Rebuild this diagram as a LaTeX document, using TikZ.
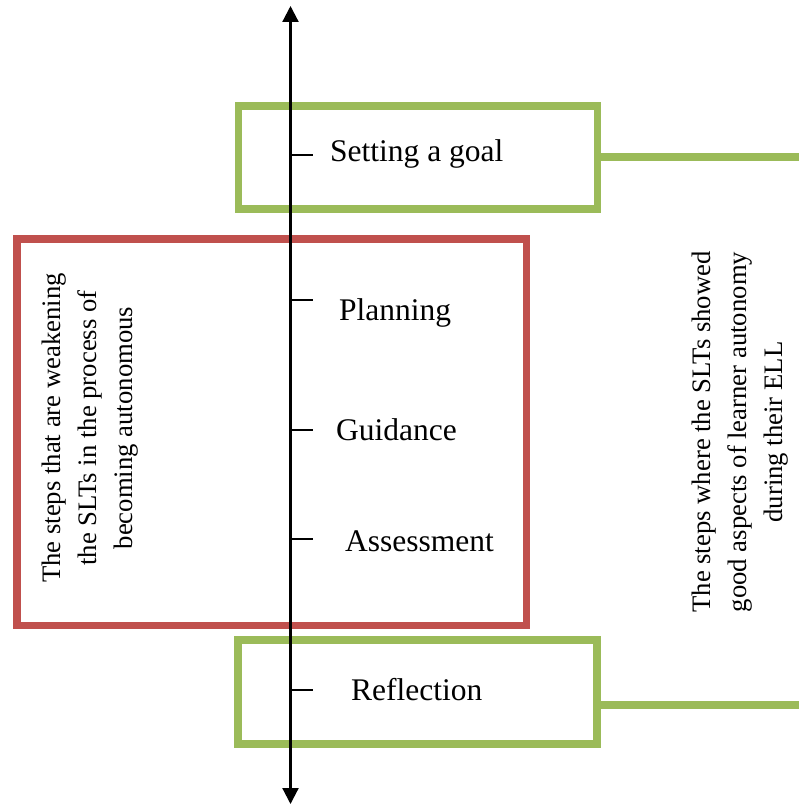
\documentclass[tikz,border=0pt]{standalone}
\usepackage{fontspec}
\setmainfont{Liberation Serif}
\usetikzlibrary{arrows.meta}
\definecolor{boxgreen}{HTML}{9BBB59}
\definecolor{boxred}{HTML}{C0504D}
\tikzset{
  greenbox/.style={draw=boxgreen, line width=7.5pt, fill=none, rectangle, inner sep=0pt, outer sep=0pt},
  redbox/.style={draw=boxred, line width=7.5pt, fill=none, rectangle, inner sep=0pt, outer sep=0pt},
  greenline/.style={draw=boxgreen, line width=8pt},
  axisline/.style={draw=black, line width=2.2pt, {Triangle[length=16pt,width=16pt]}-{Triangle[length=16pt,width=16pt]}},
  tickline/.style={draw=black, line width=1.6pt},
  steplabel/.style={anchor=base west, inner sep=0pt, font=\fontsize{31.5}{36}\selectfont},
  sidetext/.style={rotate=90, align=center, inner sep=0pt, font=\fontsize{26.7}{36}\selectfont}
}
\begin{document}
\begin{tikzpicture}[x=1pt,y=-1pt]
\useasboundingbox (0,0) rectangle (799,805);
% boxes
\node[redbox, minimum width=509.5pt, minimum height=386.5pt] (redb) at (271.5,432) {};
\node[greenbox, minimum width=359pt, minimum height=103pt] (goalbox) at (418,157.5) {};
\node[greenbox, minimum width=359pt, minimum height=104pt] (reflbox) at (417.5,692) {};
% connectors to the right edge
\coordinate (goalend) at (799,157.5);
\coordinate (reflend) at (799,705);
\draw[greenline] (goalbox.east) -- (goalend);
\draw[greenline] (reflbox.east |- reflend) -- (reflend);
% axis
\coordinate (axtop) at (290.5,6);
\coordinate (axbot) at (290.5,804);
\draw[axisline] (axbot) -- (axtop);
% ticks
\coordinate (t1) at (290.5,155);
\coordinate (t2) at (290.5,300);
\coordinate (t3) at (290.5,430);
\coordinate (t4) at (290.5,539);
\coordinate (t5) at (290.5,690);
\draw[tickline] (t1) -- ++(22.5,0);
\draw[tickline] (t2) -- ++(22.5,0);
\draw[tickline] (t3) -- ++(22.5,0);
\draw[tickline] (t4) -- ++(22.5,0);
\draw[tickline] (t5) -- ++(22.5,0);
% step labels
\node[steplabel] (l1) at (330,162) {Setting a goal};
\node[steplabel] (l2) at (339,320) {Planning};
\node[steplabel] (l3) at (336,440) {Guidance};
\node[steplabel] (l4) at (345,551) {Assessment};
\node[steplabel] (l5) at (351,700) {Reflection};
% side texts
\node[sidetext] (lefttext) at (90,428) {The steps that are weakening\\the SLTs in the process of\\becoming autonomous};
\node[sidetext] (righttext) at (740.5,432) {The steps where the SLTs showed\\good aspects of learner autonomy\\during their ELL};
\end{tikzpicture}
\end{document}
